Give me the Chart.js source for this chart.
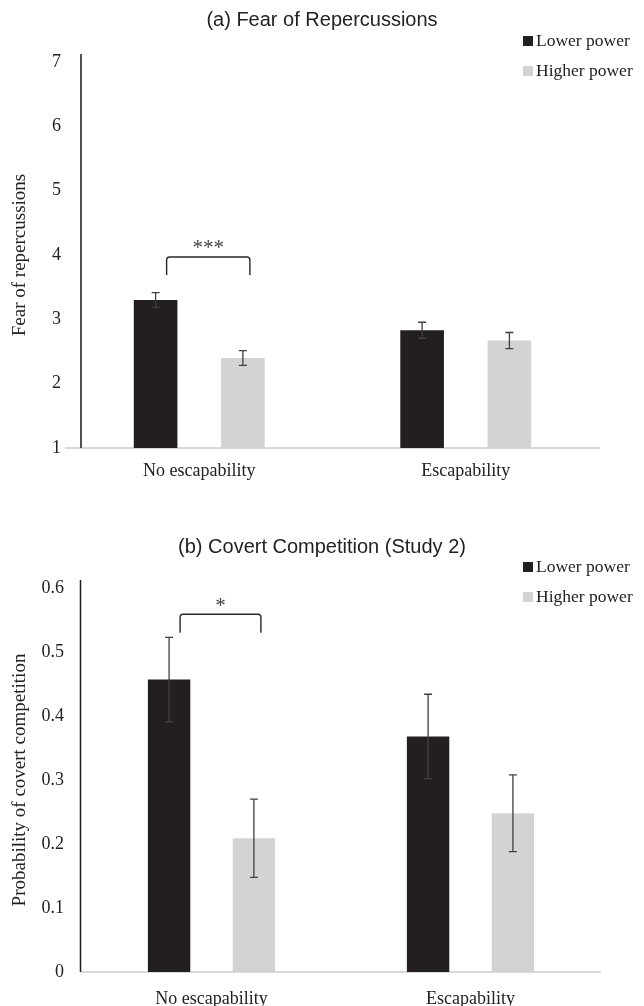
<!DOCTYPE html>
<html>
<head>
<meta charset="utf-8">
<script src="https://cdn.jsdelivr.net/npm/chart.js@4.4.1/dist/chart.umd.min.js"></script>
<style>
  html, body { margin: 0; padding: 0; background: #fff; overflow: hidden; }
  canvas { display: block; }
</style>
</head>
<body>
<canvas id="fearChart" width="644" height="495"></canvas>
<canvas id="covertChart" width="644" height="520"></canvas>
<script>
// Data-----
const categories = ['No escapability', 'Escapability'];
const seriesNames = ['Lower power', 'Higher power'];
const seriesColors = ['#231f20', '#d1d3d4'];

// (a) fear of repercussions
const fearLower = [3.30, 2.83];
const fearHigher = [2.40, 2.67];
const fearLowerErr = [0.115, 0.125];
const fearHigherErr = [0.115, 0.125];
const fearTicks = [1, 2, 3, 4, 5, 6, 7];
const fearSig = {category: 0, top: 3.97, leg: 3.69, label: '***'};

// (b) covert competition
const covertLower = [0.457, 0.368];
const covertHigher = [0.209, 0.248];
const covertLowerErr = [0.066, 0.066];
const covertHigherErr = [0.061, 0.060];
const covertTicks = [0, 0.1, 0.2, 0.3, 0.4, 0.5, 0.6];
const covertSig = {category: 0, top: 0.559, leg: 0.530, label: '*'};
// Data-----

const serif = "'Liberation Serif', 'Times New Roman', serif";
const sans = "'Liberation Sans', Arial, sans-serif";

// error bars, significance bracket, y axis line and legend
const figureExtras = {
    id: 'figureExtras',
    beforeDatasetsDraw(chart, args, opts) {
        const {ctx, chartArea} = chart;
        const x = chartArea.left + opts.yLineInset;
        ctx.save();
        ctx.strokeStyle = '#1a1a1a';
        ctx.lineWidth = 1.5;
        ctx.beginPath();
        ctx.moveTo(x, chartArea.top - 8);
        ctx.lineTo(x, chartArea.bottom);
        ctx.stroke();
        ctx.restore();
    },
    afterDatasetsDraw(chart, args, opts) {
        const {ctx} = chart;
        const y = chart.scales.y;
        ctx.save();
        ctx.strokeStyle = '#404040';
        ctx.lineWidth = 1.3;
        chart.data.datasets.forEach((ds, di) => {
            chart.getDatasetMeta(di).data.forEach((bar, i) => {
                const hi = y.getPixelForValue(ds.data[i] + ds.errors[i]);
                const lo = y.getPixelForValue(ds.data[i] - ds.errors[i]);
                ctx.beginPath();
                ctx.moveTo(bar.x, hi);
                ctx.lineTo(bar.x, lo);
                ctx.moveTo(bar.x - 4, hi);
                ctx.lineTo(bar.x + 4, hi);
                ctx.moveTo(bar.x - 4, lo);
                ctx.lineTo(bar.x + 4, lo);
                ctx.stroke();
            });
        });

        // significance bracket
        const sig = opts.sig;
        const x0 = chart.getDatasetMeta(0).data[sig.category].x + 11;
        const x1 = chart.getDatasetMeta(1).data[sig.category].x + 7;
        const top = y.getPixelForValue(sig.top);
        const leg = y.getPixelForValue(sig.leg);
        const r = 3;
        ctx.strokeStyle = '#262626';
        ctx.lineWidth = 1.4;
        ctx.beginPath();
        ctx.moveTo(x0, leg);
        ctx.arcTo(x0, top, x0 + r, top, r);
        ctx.arcTo(x1, top, x1, top + r, r);
        ctx.lineTo(x1, leg);
        ctx.stroke();
        ctx.fillStyle = '#444';
        ctx.font = '21px ' + serif;
        ctx.textAlign = 'center';
        ctx.textBaseline = 'middle';
        ctx.fillText(sig.label, (x0 + x1) / 2, top - 8);
        ctx.restore();
    },
    afterDraw(chart, args, opts) {
        const {ctx} = chart;
        ctx.save();
        ctx.font = '17.5px ' + serif;
        ctx.textBaseline = 'middle';
        ctx.textAlign = 'left';
        chart.data.datasets.forEach((ds, di) => {
            const cy = opts.legendY[di];
            ctx.fillStyle = ds.backgroundColor;
            ctx.fillRect(opts.legendX, cy - 5, 10, 10);
            ctx.fillStyle = '#222';
            ctx.fillText(ds.label, opts.legendX + 13, cy);
        });
        ctx.restore();
    }
};

function makeChart(id, cfg) {
    return new Chart(document.getElementById(id), {
        type: 'bar',
        data: {
            labels: categories,
            datasets: [
                {label: seriesNames[0], data: cfg.lower, errors: cfg.lowerErr, backgroundColor: seriesColors[0]},
                {label: seriesNames[1], data: cfg.higher, errors: cfg.higherErr, backgroundColor: seriesColors[1]}
            ]
        },
        options: {
            responsive: false,
            animation: false,
            layout: {padding: 0},
            datasets: {bar: {categoryPercentage: 0.655, barPercentage: 0.5, borderWidth: 0}},
            plugins: {
                legend: {display: false},
                tooltip: {enabled: false},
                title: {
                    display: true,
                    text: cfg.title,
                    color: '#222',
                    font: {family: sans, size: 20, weight: 'normal'},
                    padding: {top: cfg.titleTop, bottom: cfg.titleBottom}
                },
                figureExtras: {
                    sig: cfg.sig,
                    yLineInset: cfg.yLineInset,
                    legendX: 523,
                    legendY: cfg.legendY
                }
            },
            scales: {
                x: {
                    grid: {display: false, drawTicks: false},
                    border: {display: true, color: '#d9d9d9', width: 2},
                    ticks: {color: '#222', font: {family: serif, size: 18}, padding: cfg.xPad},
                    afterFit: s => { s.height = cfg.xHeight; }
                },
                y: {
                    min: cfg.ticks[0],
                    max: cfg.ticks[cfg.ticks.length - 1],
                    grid: {display: false, drawTicks: false},
                    border: {display: false},
                    afterBuildTicks: s => { s.ticks = cfg.ticks.map(v => ({value: v})); },
                    ticks: {
                        color: '#222',
                        font: {family: serif, size: 18},
                        padding: cfg.yPad,
                        callback: cfg.fmt
                    },
                    title: {
                        display: true,
                        text: cfg.yTitle,
                        color: '#222',
                        font: {family: serif, size: 19},
                        padding: {top: 8.6, bottom: 0}
                    },
                    afterFit: s => { s.width = cfg.yWidth; }
                },
                // keeps the plot clear of the right edge, draws nothing
                yRight: {
                    position: 'right',
                    grid: {display: false},
                    border: {display: false},
                    ticks: {display: false},
                    afterFit: s => { s.width = cfg.rightPad; }
                }
            }
        },
        plugins: [figureExtras]
    });
}

makeChart('fearChart', {
    title: '(a) Fear of Repercussions',
    yTitle: 'Fear of repercussions',
    lower: fearLower, higher: fearHigher,
    lowerErr: fearLowerErr, higherErr: fearHigherErr,
    ticks: fearTicks,
    fmt: v => String(v),
    sig: fearSig,
    titleTop: 8, titleBottom: 30,
    yWidth: 66, rightPad: 45, xHeight: 47,
    yPad: 5, xPad: 12,
    yLineInset: 15,
    legendY: [41, 71]
});

makeChart('covertChart', {
    title: '(b) Covert Competition (Study 2)',
    yTitle: 'Probability of covert competition',
    lower: covertLower, higher: covertHigher,
    lowerErr: covertLowerErr, higherErr: covertHigherErr,
    ticks: covertTicks,
    fmt: v => v === 0 ? '0' : v.toFixed(1),
    sig: covertSig,
    titleTop: 40, titleBottom: 29,
    yWidth: 82, rightPad: 44, xHeight: 43,
    yPad: 18, xPad: 16,
    yLineInset: -1.5,
    legendY: [72, 102]
});
</script>
</body>
</html>
